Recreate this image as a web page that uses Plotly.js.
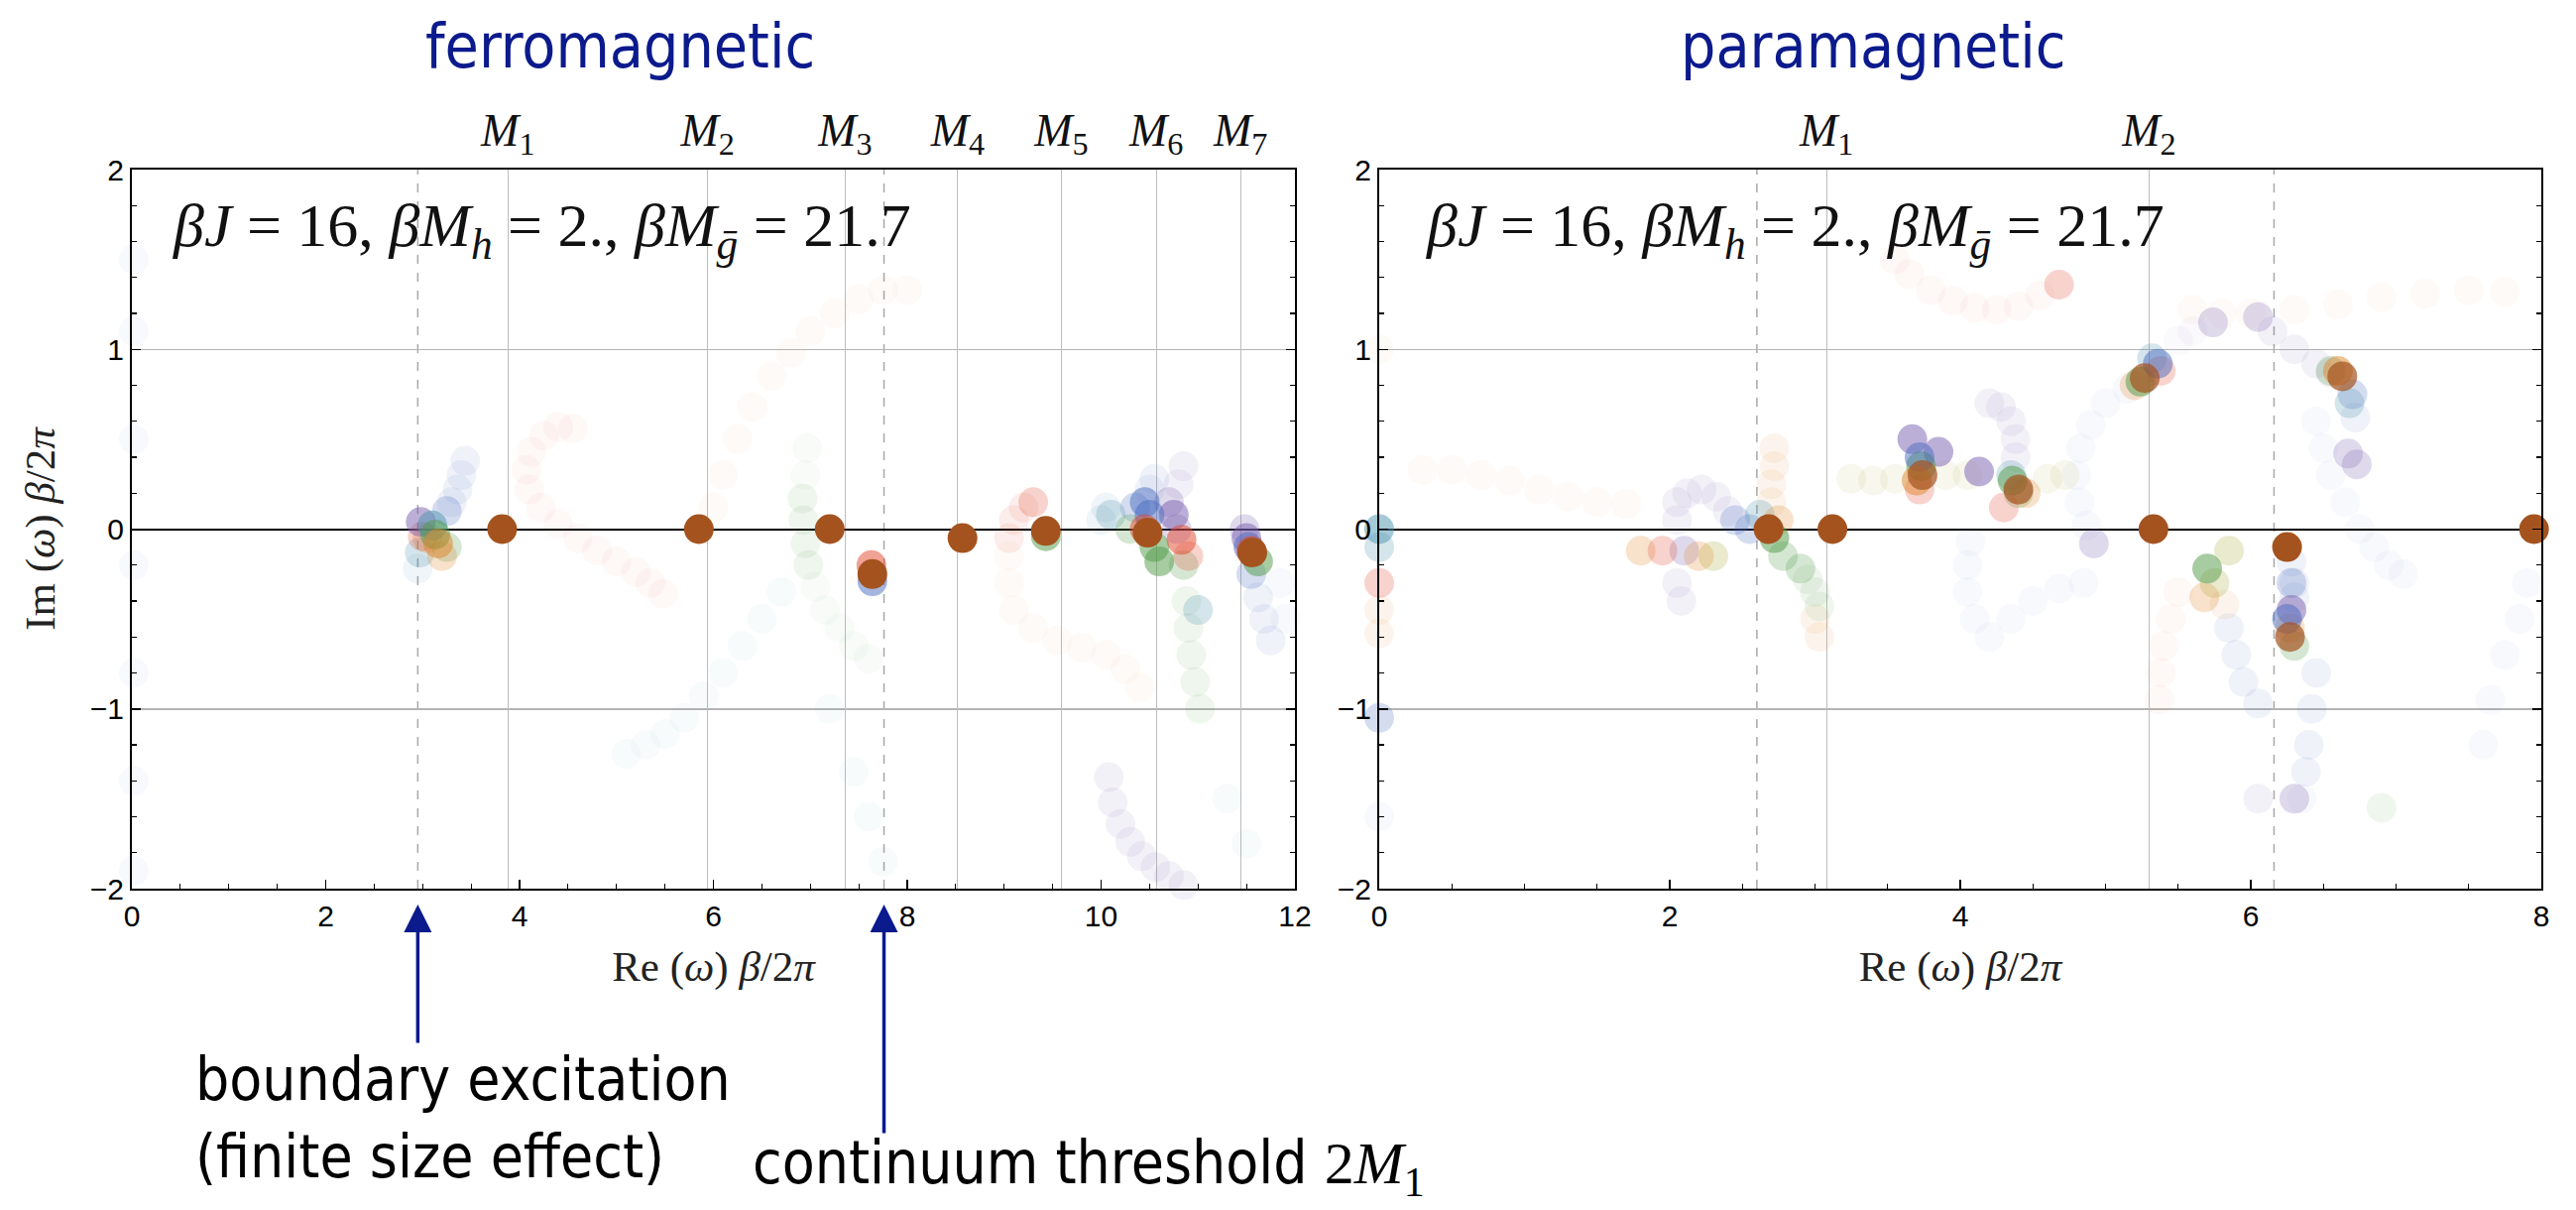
<!DOCTYPE html>
<html>
<head>
<meta charset="utf-8">
<script src="https://cdn.plot.ly/plotly-3.0.1.min.js"></script>
<style>
  html, body { margin: 0; padding: 0; background: #ffffff; }
  #chart { width: 2598px; height: 1220px; }
</style>
</head>
<body>
<div id="chart"></div>
<script>
// ---------------- DATA ----------------
// Axis ticks
const ferroXTicks = [0, 2, 4, 6, 8, 10, 12];
const paraXTicks = [0, 2, 4, 6, 8];
const yTicks = [-2, -1, 0, 1, 2];

// Particle masses (top tick labels) and dashed reference lines
const ferroMassX = [3.88, 5.94, 7.36, 8.52, 9.59, 10.57, 11.44];
const ferroMassLabels = ['M1', 'M2', 'M3', 'M4', 'M5', 'M6', 'M7'];
const paraMassX = [3.08, 5.30];
const paraMassLabels = ['M1', 'M2'];
const ferroDashedX = [2.95, 7.76];   // boundary excitation, 2 M1
const paraDashedX = [2.60, 6.16];

// Poles (solid brown markers)
const ferroPoles = [[3.82, 0], [5.85, 0], [7.20, 0], [7.64, -0.25], [8.57, -0.05], [9.43, -0.01], [10.48, -0.02], [11.56, -0.13]];
const paraPoles = [[2.68, 0], [3.12, 0], [5.33, 0], [6.25, -0.10], [7.95, 0]];

// Ferromagnetic: flow of poles, grouped by colour and intensity
const ferroCorePurple = [[2.98, 0.04], [11.50, -0.05], [10.75, 0.08]];
const ferroCoreBlue = [[10.50, 0.08], [7.64, -0.29], [11.52, -0.10], [10.45, 0.15]];
const ferroCoreTeal = [[3.10, 0.02]];
const ferroCoreGreen = [[3.13, -0.03], [10.55, -0.10], [11.62, -0.18], [9.43, -0.04], [10.60, -0.18]];
const ferroCoreOrange = [[3.16, -0.08]];
const ferroCoreRed = [[10.83, -0.06], [11.55, -0.12], [7.63, -0.20], [10.45, 0.00]];

const ferroMidPurple = [[10.78, 0.00], [11.48, 0.00], [10.70, 0.15]];
const ferroMidBlue = [[3.25, 0.10], [11.55, -0.25], [10.35, 0.12]];
const ferroMidTeal = [[10.10, 0.08], [2.97, -0.13], [11.00, -0.45]];
const ferroMidGreen = [[3.25, -0.10], [10.30, 0.00], [10.85, -0.20]];
const ferroMidOrange = [[3.20, -0.15], [3.05, -0.05]];
const ferroMidRed = [[3.00, -0.04], [9.30, 0.15], [10.90, -0.15]];

const ferroTrailBlue = [[3.30, 0.15], [3.36, 0.22], [3.40, 0.30], [3.44, 0.38], [10.50, 0.22], [10.55, 0.28], [11.62, -0.38], [11.68, -0.50], [11.75, -0.62]];
const ferroTrailTeal = [[2.95, -0.22], [10.05, 0.12], [10.00, 0.05]];
const ferroTrailGreen = [[6.92, 0.17], [6.93, 0.05], [6.95, -0.08], [6.98, -0.20], [10.88, -0.40], [10.90, -0.55], [10.93, -0.70], [10.97, -0.85], [11.02, -1.00]];
const ferroTrailPurple = [[10.08, -1.38], [10.12, -1.52], [10.20, -1.64], [10.30, -1.74], [10.42, -1.82], [10.56, -1.88], [10.70, -1.93], [10.85, -1.98], [11.00, -2.02], [10.80, 0.25], [10.85, 0.35]];
const ferroTrailRed = [[9.20, 0.12], [9.10, 0.05], [9.05, -0.05]];

const ferroGhostRed = [[4.55, 0.56], [4.40, 0.57], [4.25, 0.52], [4.12, 0.43], [4.07, 0.33], [4.10, 0.22], [4.22, 0.12], [4.40, 0.03], [4.60, -0.05], [4.80, -0.12], [5.00, -0.18], [5.20, -0.24], [5.35, -0.30], [5.48, -0.36]];
const ferroGhostOrange = [[6.00, 0.12], [6.10, 0.30], [6.25, 0.50], [6.40, 0.68], [6.60, 0.85], [6.80, 0.98], [7.00, 1.10], [7.25, 1.20], [7.50, 1.28], [7.75, 1.33], [8.00, 1.33], [9.05, -0.15], [9.05, -0.30], [9.10, -0.45], [9.30, -0.55], [9.55, -0.62], [9.80, -0.66], [10.05, -0.70], [10.25, -0.78], [10.40, -0.88]];
const ferroGhostGreen = [[7.05, -0.32], [7.15, -0.45], [7.30, -0.55], [7.45, -0.65], [7.60, -0.72], [6.95, 0.30], [6.97, 0.45]];
const ferroGhostTeal = [[6.70, -0.35], [6.50, -0.50], [6.30, -0.65], [6.10, -0.80], [5.90, -0.93], [5.70, -1.05], [5.50, -1.14], [5.30, -1.20], [5.10, -1.25], [7.20, -1.00], [7.45, -1.35], [7.60, -1.60], [7.75, -1.85], [11.30, -1.50], [11.50, -1.75]];
const ferroGhostBlue = [[0.02, 1.50], [0.02, 1.10], [0.02, 0.50], [0.02, -0.20], [0.02, -0.80], [0.02, -1.40], [0.02, -1.90], [11.85, -0.30], [11.90, -0.50]];

// Paramagnetic
const paraCoreBrown = [[3.74, 0.30], [4.40, 0.22], [5.27, 0.84], [6.63, 0.85], [6.27, -0.60]];
const paraCorePurple = [[3.67, 0.50], [3.85, 0.43], [4.13, 0.32], [6.28, -0.45]];
const paraCoreGreen = [[3.73, 0.35], [4.36, 0.27], [5.24, 0.82], [5.70, -0.22], [2.72, -0.05]];
const paraCoreBlue = [[3.72, 0.40], [6.25, -0.50], [5.36, 0.92]];
const paraCoreOrange = [[6.60, 0.88], [3.70, 0.27]];
const paraCoreTeal = [[0.00, 0.00]];

const paraMidPurple = [[5.74, 1.15], [6.05, 1.18], [6.67, 0.42], [6.73, 0.36], [4.92, -0.08], [2.10, -0.12], [6.30, -1.50]];
const paraMidBlue = [[2.45, 0.05], [2.55, 0.00], [6.70, 0.75], [6.28, -0.30], [0.00, -1.05]];
const paraMidTeal = [[5.32, 0.95], [6.68, 0.70], [4.35, 0.30], [0.00, -0.10], [2.62, 0.08]];
const paraMidGreen = [[6.55, 0.88], [2.78, -0.15], [2.90, -0.22], [6.30, -0.65], [4.40, 0.20]];
const paraMidOlive = [[5.75, -0.30], [5.85, -0.12], [2.30, -0.15]];
const paraMidOrange = [[5.20, 0.80], [4.45, 0.20], [5.68, -0.38], [6.27, -0.55], [1.80, -0.12], [2.20, -0.15], [2.75, 0.05]];
const paraMidRed = [[5.38, 0.88], [3.72, 0.22], [4.30, 0.12], [1.95, -0.12], [4.68, 1.36], [0.00, -0.30]];

const paraTrailPurple = [[6.15, 1.10], [6.30, 1.00], [6.45, 0.92], [6.55, 0.87], [2.05, 0.05], [2.05, 0.15], [2.12, 0.20], [2.22, 0.22], [2.32, 0.18], [2.40, 0.10], [4.20, 0.70], [4.28, 0.68], [4.35, 0.60], [4.38, 0.50], [4.38, 0.40], [2.05, -0.30], [2.08, -0.40], [6.05, -1.50]];
const paraTrailBlue = [[6.28, -0.18], [6.30, -0.30], [6.30, -0.38], [6.45, -0.80], [6.42, -1.00], [6.40, -1.20], [6.38, -1.35], [6.72, 0.62], [5.85, -0.55], [5.90, -0.70], [5.95, -0.85], [6.05, -0.97]];
const paraTrailGreen = [[2.95, -0.28], [3.00, -0.35], [3.03, -0.43], [6.90, -1.55]];
const paraTrailOrange = [[3.00, -0.50], [3.03, -0.60], [5.82, -0.42], [0.00, -0.45], [0.00, -0.58], [2.72, 0.45], [2.72, 0.35], [2.70, 0.25], [2.70, 0.15]];
const paraTrailOlive = [[3.25, 0.28], [3.40, 0.27], [3.55, 0.28], [3.90, 0.30], [4.05, 0.30], [4.60, 0.28], [4.72, 0.30]];

const paraGhostRed = [[3.55, 1.50], [3.65, 1.42], [3.80, 1.33], [3.95, 1.27], [4.10, 1.23], [4.25, 1.22], [4.40, 1.24], [4.55, 1.30], [5.50, -0.35], [5.45, -0.50], [5.40, -0.65], [5.38, -0.80], [5.37, -0.95]];
const paraGhostOrange = [[5.60, 1.22], [5.80, 1.20], [6.00, 1.20], [6.30, 1.22], [6.60, 1.25], [6.90, 1.29], [7.20, 1.31], [7.50, 1.33], [7.75, 1.32], [0.30, 0.33], [0.50, 0.33], [0.70, 0.30], [0.90, 0.27], [1.10, 0.22], [1.30, 0.18], [1.50, 0.15], [1.70, 0.14], [0.00, 1.00]];
const paraGhostBlue = [[5.15, 0.78], [5.00, 0.70], [4.90, 0.58], [4.83, 0.45], [4.80, 0.30], [4.82, 0.15], [4.87, 0.02], [6.45, 0.60], [6.50, 0.45], [6.55, 0.30], [6.65, 0.15], [6.75, 0.00], [6.85, -0.10], [6.95, -0.20], [7.05, -0.25], [4.07, -0.07], [4.05, -0.20], [4.05, -0.35], [4.10, -0.50], [4.20, -0.60], [4.35, -0.50], [4.50, -0.40], [4.68, -0.33], [4.85, -0.30], [7.90, -0.30], [7.85, -0.50], [7.75, -0.70], [7.65, -0.95], [7.60, -1.20], [6.35, -1.50], [0.00, -1.60]];
const paraGhostPurple = [[5.50, 1.05], [5.60, 1.10]];

// ---------------- STYLE ----------------
const C = {
  purple: '#7a5fb0', blue: '#4a6cc0', teal: '#4b93b0', green: '#4f9a45',
  olive: '#a3a833', orange: '#e0862a', red: '#e2452c', brown: '#a4531f'
};
const NAVY = '#0b1a8c';
const SERIF = 'Liberation Serif, DejaVu Serif, serif';
const SANS = 'Liberation Sans, Arial, sans-serif';
const TAHOMA = 'DejaVu Sans Condensed, DejaVu Sans, sans-serif';
const MS = 30;

const traces = [];
function addGroup(points, color, opacity, xa, ya) {
  traces.push({
    type: 'scatter', mode: 'markers',
    x: points.map(p => p[0]), y: points.map(p => p[1]),
    xaxis: xa, yaxis: ya,
    marker: { size: MS, color: color, opacity: opacity, line: { width: 0 } },
    cliponaxis: false, hoverinfo: 'skip', showlegend: false
  });
}

const GH = 0.038, TR = 0.09, MID = 0.24, CORE = 0.5;
// ferro
addGroup(ferroGhostRed, C.red, GH, 'x', 'y');
addGroup(ferroGhostOrange, C.orange, GH, 'x', 'y');
addGroup(ferroGhostGreen, C.green, GH, 'x', 'y');
addGroup(ferroGhostTeal, C.teal, GH, 'x', 'y');
addGroup(ferroGhostBlue, C.blue, GH, 'x', 'y');
addGroup(ferroTrailBlue, C.blue, TR, 'x', 'y');
addGroup(ferroTrailTeal, C.teal, TR, 'x', 'y');
addGroup(ferroTrailGreen, C.green, TR, 'x', 'y');
addGroup(ferroTrailPurple, C.purple, TR, 'x', 'y');
addGroup(ferroTrailRed, C.red, TR, 'x', 'y');
addGroup(ferroMidPurple, C.purple, MID, 'x', 'y');
addGroup(ferroMidBlue, C.blue, MID, 'x', 'y');
addGroup(ferroMidTeal, C.teal, MID, 'x', 'y');
addGroup(ferroMidGreen, C.green, MID, 'x', 'y');
addGroup(ferroMidOrange, C.orange, MID, 'x', 'y');
addGroup(ferroMidRed, C.red, MID, 'x', 'y');
addGroup(ferroCorePurple, C.purple, CORE, 'x', 'y');
addGroup(ferroCoreBlue, C.blue, CORE, 'x', 'y');
addGroup(ferroCoreTeal, C.teal, CORE, 'x', 'y');
addGroup(ferroCoreGreen, C.green, CORE, 'x', 'y');
addGroup(ferroCoreOrange, C.orange, CORE, 'x', 'y');
addGroup(ferroCoreRed, C.red, CORE, 'x', 'y');
addGroup(ferroPoles, C.brown, 1, 'x', 'y');
// para
addGroup(paraGhostRed, C.red, GH, 'x2', 'y2');
addGroup(paraGhostOrange, C.orange, GH, 'x2', 'y2');
addGroup(paraGhostBlue, C.blue, GH, 'x2', 'y2');
addGroup(paraGhostPurple, C.purple, GH, 'x2', 'y2');
addGroup(paraTrailPurple, C.purple, TR, 'x2', 'y2');
addGroup(paraTrailBlue, C.blue, TR, 'x2', 'y2');
addGroup(paraTrailGreen, C.green, TR, 'x2', 'y2');
addGroup(paraTrailOrange, C.orange, TR, 'x2', 'y2');
addGroup(paraTrailOlive, C.olive, TR, 'x2', 'y2');
addGroup(paraMidPurple, C.purple, MID, 'x2', 'y2');
addGroup(paraMidBlue, C.blue, MID, 'x2', 'y2');
addGroup(paraMidTeal, C.teal, MID, 'x2', 'y2');
addGroup(paraMidGreen, C.green, MID, 'x2', 'y2');
addGroup(paraMidOlive, C.olive, MID, 'x2', 'y2');
addGroup(paraMidOrange, C.orange, MID, 'x2', 'y2');
addGroup(paraMidRed, C.red, MID, 'x2', 'y2');
addGroup(paraCorePurple, C.purple, CORE, 'x2', 'y2');
addGroup(paraCoreGreen, C.green, CORE, 'x2', 'y2');
addGroup(paraCoreBlue, C.blue, CORE, 'x2', 'y2');
addGroup(paraCoreOrange, C.orange, CORE, 'x2', 'y2');
addGroup(paraCoreTeal, C.teal, CORE, 'x2', 'y2');
addGroup(paraCoreBrown, C.brown, 0.7, 'x2', 'y2');
addGroup(paraPoles, C.brown, 1, 'x2', 'y2');

// ---------------- LAYOUT ----------------
const W = 2598, H = 1220;
const px = v => v / W, py = v => 1 - v / H;
const yDom = [py(896), py(171)];
const massLabel = s => '<i>M</i><sub>' + s.slice(1) + '</sub>';
const xTitle = 'Re (<i>ω</i>) <i>β</i>/2<i>π</i>';
const yTitle = 'Im (<i>ω</i>) <i>β</i>/2<i>π</i>';
const paramText = '<i>βJ</i> = 16, <i>βM</i><sub><i>h</i></sub> = 2., <i>βM</i><sub><i>ḡ</i></sub> = 21.7';

function xAxis(domain, range, ticks, anchor) {
  return {
    domain: domain, range: range, anchor: anchor,
    tickvals: ticks, ticktext: ticks.map(String),
    ticks: 'inside', ticklen: 9, tickwidth: 1.5, tickcolor: '#000',
    minor: { ticks: 'inside', ticklen: 5, tickwidth: 1.2, tickcolor: '#000', dtick: 0.5, showgrid: false },
    showline: true, linecolor: '#000', linewidth: 2, mirror: true,
    showgrid: false, zeroline: false,
    tickfont: { family: SANS, size: 30, color: '#000' },
    ticklabelstandoff: 0,
    title: { text: xTitle, font: { family: SERIF, size: 43, color: '#222' }, standoff: 20 }
  };
}
function yAxis(anchor, withTitle) {
  const a = {
    domain: yDom, range: [-2, 2], anchor: anchor,
    tickvals: yTicks, ticktext: yTicks.map(v => v < 0 ? '−' + Math.abs(v) : String(v)),
    ticks: 'inside', ticklen: 9, tickwidth: 1.5, tickcolor: '#000',
    minor: { ticks: 'inside', ticklen: 5, tickwidth: 1.2, tickcolor: '#000', dtick: 0.2, showgrid: false },
    showline: true, linecolor: '#000', linewidth: 2, mirror: 'ticks',
    showgrid: true, gridcolor: '#b4b4b4', gridwidth: 1.5,
    zeroline: true, zerolinecolor: '#000', zerolinewidth: 2,
    tickfont: { family: SANS, size: 30, color: '#000' },
    ticklabelstandoff: 0
  };
  if (withTitle) a.title = { text: yTitle, font: { family: SERIF, size: 43, color: '#222' }, standoff: 22 };
  return a;
}
function topAxis(overlay, domain, range, vals, labels, anchor) {
  return {
    overlaying: overlay, side: 'top', anchor: anchor, domain: domain, range: range,
    tickvals: vals, ticktext: labels.map(massLabel), ticks: '',
    showgrid: true, gridcolor: '#bdbdbd', gridwidth: 1.2,
    showline: false, zeroline: false,
    tickfont: { family: SERIF, size: 46, color: '#111' },
    ticklabelstandoff: 14
  };
}

const xDomL = [px(133), px(1306)];
const xDomR = [px(1391), px(2563)];

const shapes = [];
ferroDashedX.forEach(v => shapes.push({ type: 'line', xref: 'x', yref: 'y', x0: v, x1: v, y0: -2, y1: 2, layer: 'below', line: { color: '#a8a8a8', width: 1.5, dash: 'dash' } }));
paraDashedX.forEach(v => shapes.push({ type: 'line', xref: 'x2', yref: 'y2', x0: v, x1: v, y0: -2, y1: 2, layer: 'below', line: { color: '#a8a8a8', width: 1.5, dash: 'dash' } }));

const annotations = [
  { text: 'ferromagnetic', xref: 'paper', yref: 'paper', x: px(625), y: py(47), showarrow: false, xanchor: 'center', yanchor: 'middle', font: { family: TAHOMA, size: 62, color: NAVY } },
  { text: 'paramagnetic', xref: 'paper', yref: 'paper', x: px(1889), y: py(47), showarrow: false, xanchor: 'center', yanchor: 'middle', font: { family: TAHOMA, size: 62, color: NAVY } },
  { text: paramText, xref: 'paper', yref: 'paper', x: px(172), y: py(232), showarrow: false, xanchor: 'left', yanchor: 'middle', font: { family: SERIF, size: 62, color: '#111' } },
  { text: paramText, xref: 'paper', yref: 'paper', x: px(1436), y: py(232), showarrow: false, xanchor: 'left', yanchor: 'middle', font: { family: SERIF, size: 62, color: '#111' } },
  { text: 'boundary excitation<br>(finite size effect)', xref: 'paper', yref: 'paper', x: px(195), y: py(1127), showarrow: false, xanchor: 'left', yanchor: 'middle', align: 'left', font: { family: TAHOMA, size: 60, color: '#000' } },
  { text: 'continuum threshold <span style="font-family:Liberation Serif">2<i>M</i><sub>1</sub></span>', xref: 'paper', yref: 'paper', x: px(757), y: py(1176), showarrow: false, xanchor: 'left', yanchor: 'middle', align: 'left', font: { family: TAHOMA, size: 60, color: '#000' } },
  { text: '', xref: 'x', yref: 'paper', x: ferroDashedX[0], y: py(912), showarrow: true, ax: 0, ay: 141, arrowhead: 2, arrowsize: 1.6, arrowwidth: 3.5, arrowcolor: NAVY, standoff: 0 },
  { text: '', xref: 'x', yref: 'paper', x: ferroDashedX[1], y: py(912), showarrow: true, ax: 0, ay: 232, arrowhead: 2, arrowsize: 1.6, arrowwidth: 3.5, arrowcolor: NAVY, standoff: 0 }
];

const layout = {
  width: W, height: H,
  margin: { l: 0, r: 0, t: 0, b: 0, pad: 0 },
  paper_bgcolor: '#ffffff', plot_bgcolor: '#ffffff',
  showlegend: false,
  xaxis: xAxis(xDomL, [0, 12], ferroXTicks, 'y'),
  yaxis: yAxis('x', true),
  xaxis2: xAxis(xDomR, [0, 8], paraXTicks, 'y2'),
  yaxis2: yAxis('x2', false),
  xaxis3: topAxis('x', xDomL, [0, 12], ferroMassX, ferroMassLabels, 'y'),
  xaxis4: topAxis('x2', xDomR, [0, 8], paraMassX, paraMassLabels, 'y2'),
  shapes: shapes,
  annotations: annotations
};

// invisible anchor traces so the top mass axes are attached to their panels
traces.unshift({ type: 'scatter', mode: 'markers', x: ferroMassX, y: ferroMassX.map(() => null), xaxis: 'x3', yaxis: 'y', hoverinfo: 'skip', showlegend: false });
traces.unshift({ type: 'scatter', mode: 'markers', x: paraMassX, y: paraMassX.map(() => null), xaxis: 'x4', yaxis: 'y2', hoverinfo: 'skip', showlegend: false });

Plotly.newPlot('chart', traces, layout, { displayModeBar: false, staticPlot: true });
</script>
</body>
</html>
